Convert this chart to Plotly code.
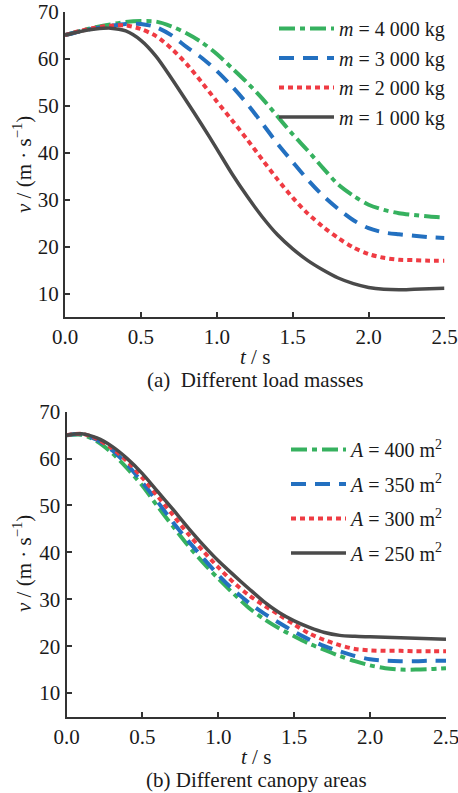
import plotly.graph_objects as go

# ---------------- data ----------------
t = [0.0, 0.1, 0.2, 0.3, 0.4, 0.5, 0.6, 0.7, 0.8, 0.9, 1.0, 1.1, 1.2,
     1.3, 1.4, 1.5, 1.6, 1.7, 1.8, 1.9, 2.0, 2.1, 2.2, 2.3, 2.4, 2.5]

# (a) different load masses
v_m4000 = [65.0, 65.9, 66.7, 67.3, 67.8, 68.0, 67.9, 66.9, 65.4, 63.5, 61.0, 58.0, 54.9,
           51.5, 47.7, 43.9, 40.4, 36.7, 33.2, 30.8, 28.9, 27.8, 27.1, 26.7, 26.4, 26.2]
v_m3000 = [65.0, 65.8, 66.5, 67.0, 67.4, 67.4, 66.7, 65.0, 62.5, 60.2, 57.4, 54.1, 50.4,
           46.2, 41.9, 38.0, 34.2, 30.8, 28.0, 25.6, 23.9, 23.0, 22.6, 22.3, 22.0, 21.8]
v_m2000 = [65.0, 65.9, 66.6, 67.0, 67.1, 66.3, 64.8, 62.2, 58.9, 55.0, 50.9, 46.9, 42.8,
           38.5, 34.3, 30.4, 27.0, 24.2, 21.8, 19.8, 18.4, 17.6, 17.2, 17.1, 17.0, 17.0]
v_m1000 = [65.0, 65.8, 66.3, 66.5, 65.9, 63.9, 60.5, 55.9, 51.0, 46.0, 40.8, 35.5, 30.7,
           26.3, 22.5, 19.5, 17.0, 15.0, 13.3, 12.1, 11.3, 10.9, 10.8, 10.9, 11.0, 11.1]
labels_a = ["<i>m</i> = 4 000 kg", "<i>m</i> = 3 000 kg",
            "<i>m</i> = 2 000 kg", "<i>m</i> = 1 000 kg"]

# (b) different canopy areas
v_A400 = [65.0, 65.1, 63.7, 61.2, 57.9, 54.2, 49.8, 45.6, 41.5, 37.8, 34.4, 31.2, 28.2,
          25.8, 23.8, 22.1, 20.5, 19.2, 17.9, 16.8, 15.9, 15.3, 15.0, 15.0, 15.1, 15.3]
v_A350 = [65.0, 65.2, 64.0, 61.8, 58.7, 54.9, 50.8, 46.5, 42.5, 38.8, 35.2, 32.0, 29.3,
          27.0, 25.0, 23.1, 21.4, 20.0, 18.9, 17.9, 17.2, 16.9, 16.8, 16.8, 16.9, 16.9]
v_A300 = [65.0, 65.3, 64.2, 62.2, 59.4, 55.9, 52.0, 48.0, 44.0, 40.3, 36.8, 33.6, 30.9,
          28.7, 26.7, 24.6, 22.7, 21.3, 20.2, 19.4, 19.1, 19.0, 19.0, 18.9, 18.9, 18.9]
v_A250 = [65.0, 65.3, 64.4, 62.6, 60.0, 56.8, 53.0, 49.2, 45.3, 41.6, 38.2, 35.2, 32.3,
          29.5, 27.2, 25.4, 24.0, 22.9, 22.3, 22.1, 22.0, 21.9, 21.8, 21.7, 21.6, 21.5]
labels_b = ["<i>A</i> = 400 m<sup>2</sup>", "<i>A</i> = 350 m<sup>2</sup>",
            "<i>A</i> = 300 m<sup>2</sup>", "<i>A</i> = 250 m<sup>2</sup>"]

x_ticks = [0.0, 0.5, 1.0, 1.5, 2.0, 2.5]
x_ticktext = ["0.0", "0.5", "1.0", "1.5", "2.0", "2.5"]
y_ticks = [10, 20, 30, 40, 50, 60, 70]

# ---------------- styles ----------------
GREEN = "#36b15f"
BLUE = "#2370c0"
RED = "#ef3b43"
GRAY = "#4a4a4a"
styles = [
    dict(color=GREEN, width=4, dash="16px,5px,5px,5px"),
    dict(color=BLUE, width=4, dash="15px,9px"),
    dict(color=RED, width=4, dash="5px,4px"),
    dict(color=GRAY, width=3.5, dash="solid"),
]
FONT = "Liberation Serif, Times New Roman, serif"
TXT = "#1a1a1a"

fig = go.Figure()
for i, (v, lab, st) in enumerate(zip([v_m4000, v_m3000, v_m2000, v_m1000], labels_a, styles)):
    fig.add_trace(go.Scatter(x=t, y=v, mode="lines", name=lab,
                             line=dict(shape="spline", smoothing=0.8, **st),
                             xaxis="x", yaxis="y", legend="legend", legendgroup="a%d" % i))
for i, (v, lab, st) in enumerate(zip([v_A400, v_A350, v_A300, v_A250], labels_b, styles)):
    fig.add_trace(go.Scatter(x=t, y=v, mode="lines", name=lab,
                             line=dict(shape="spline", smoothing=0.8, **st),
                             xaxis="x2", yaxis="y2", legend="legend2", legendgroup="b%d" % i))

H = 793.0
W = 458.0


def px(p):
    return p / W


def py(p):
    return 1 - p / H


axis_common = dict(showline=True, linecolor="#333333", linewidth=2, ticks="inside", ticklen=5,
                   tickwidth=1.5, tickcolor="#333333", showgrid=False, zeroline=False,
                   automargin=False, ticklabeloverflow="allow",
                   tickfont=dict(family=FONT, size=21, color=TXT))
fig.update_layout(
    width=458, height=793,
    margin=dict(l=0, r=0, t=0, b=0, autoexpand=False),
    paper_bgcolor="white", plot_bgcolor="white",
    font=dict(family=FONT, size=21, color=TXT),
    xaxis=dict(domain=[px(65), px(444.5)], range=[0, 2.5], anchor="y",
               tickvals=x_ticks, ticktext=x_ticktext, **axis_common),
    yaxis=dict(domain=[py(317), py(11.7)], range=[5, 70], anchor="x",
               tickvals=y_ticks, **axis_common),
    xaxis2=dict(domain=[px(66.5), px(446)], range=[0, 2.5], anchor="y2",
                tickvals=x_ticks, ticktext=x_ticktext, **axis_common),
    yaxis2=dict(domain=[py(716.5), py(411.7)], range=[5, 70], anchor="x2",
                tickvals=y_ticks, **axis_common),
    legend=dict(x=px(450), y=py(9), xanchor="right", yanchor="top", bgcolor="rgba(0,0,0,0)",
                font=dict(family=FONT, size=20, color=TXT), itemwidth=55, tracegroupgap=0.5),
    legend2=dict(x=px(450), y=py(430), xanchor="right", yanchor="top", bgcolor="rgba(0,0,0,0)",
                 font=dict(family=FONT, size=20, color=TXT), itemwidth=55, tracegroupgap=5.5),
    showlegend=True,
)

annos = [
    dict(text="<i>v</i> / (m · s<sup>−1</sup>)", x=px(22), y=py(165), textangle=-90, size=21),
    dict(text="<i>t</i> / s", x=px(255), y=py(357), size=21),
    dict(text="(a)\u00a0\u00a0Different load masses", x=px(255), y=py(380), size=21),
    dict(text="<i>v</i> / (m · s<sup>−1</sup>)", x=px(22), y=py(564), textangle=-90, size=21),
    dict(text="<i>t</i> / s", x=px(256), y=py(757), size=21),
    dict(text="(b) Different canopy areas", x=px(256), y=py(780), size=21),
]
for a in annos:
    size = a.pop("size")
    fig.add_annotation(xref="paper", yref="paper", showarrow=False, xanchor="center", yanchor="middle",
                       font=dict(family=FONT, size=size, color=TXT), **a)

fig.write_html("out.html", config={"displayModeBar": False},
               post_script="document.body.style.margin='0';")
